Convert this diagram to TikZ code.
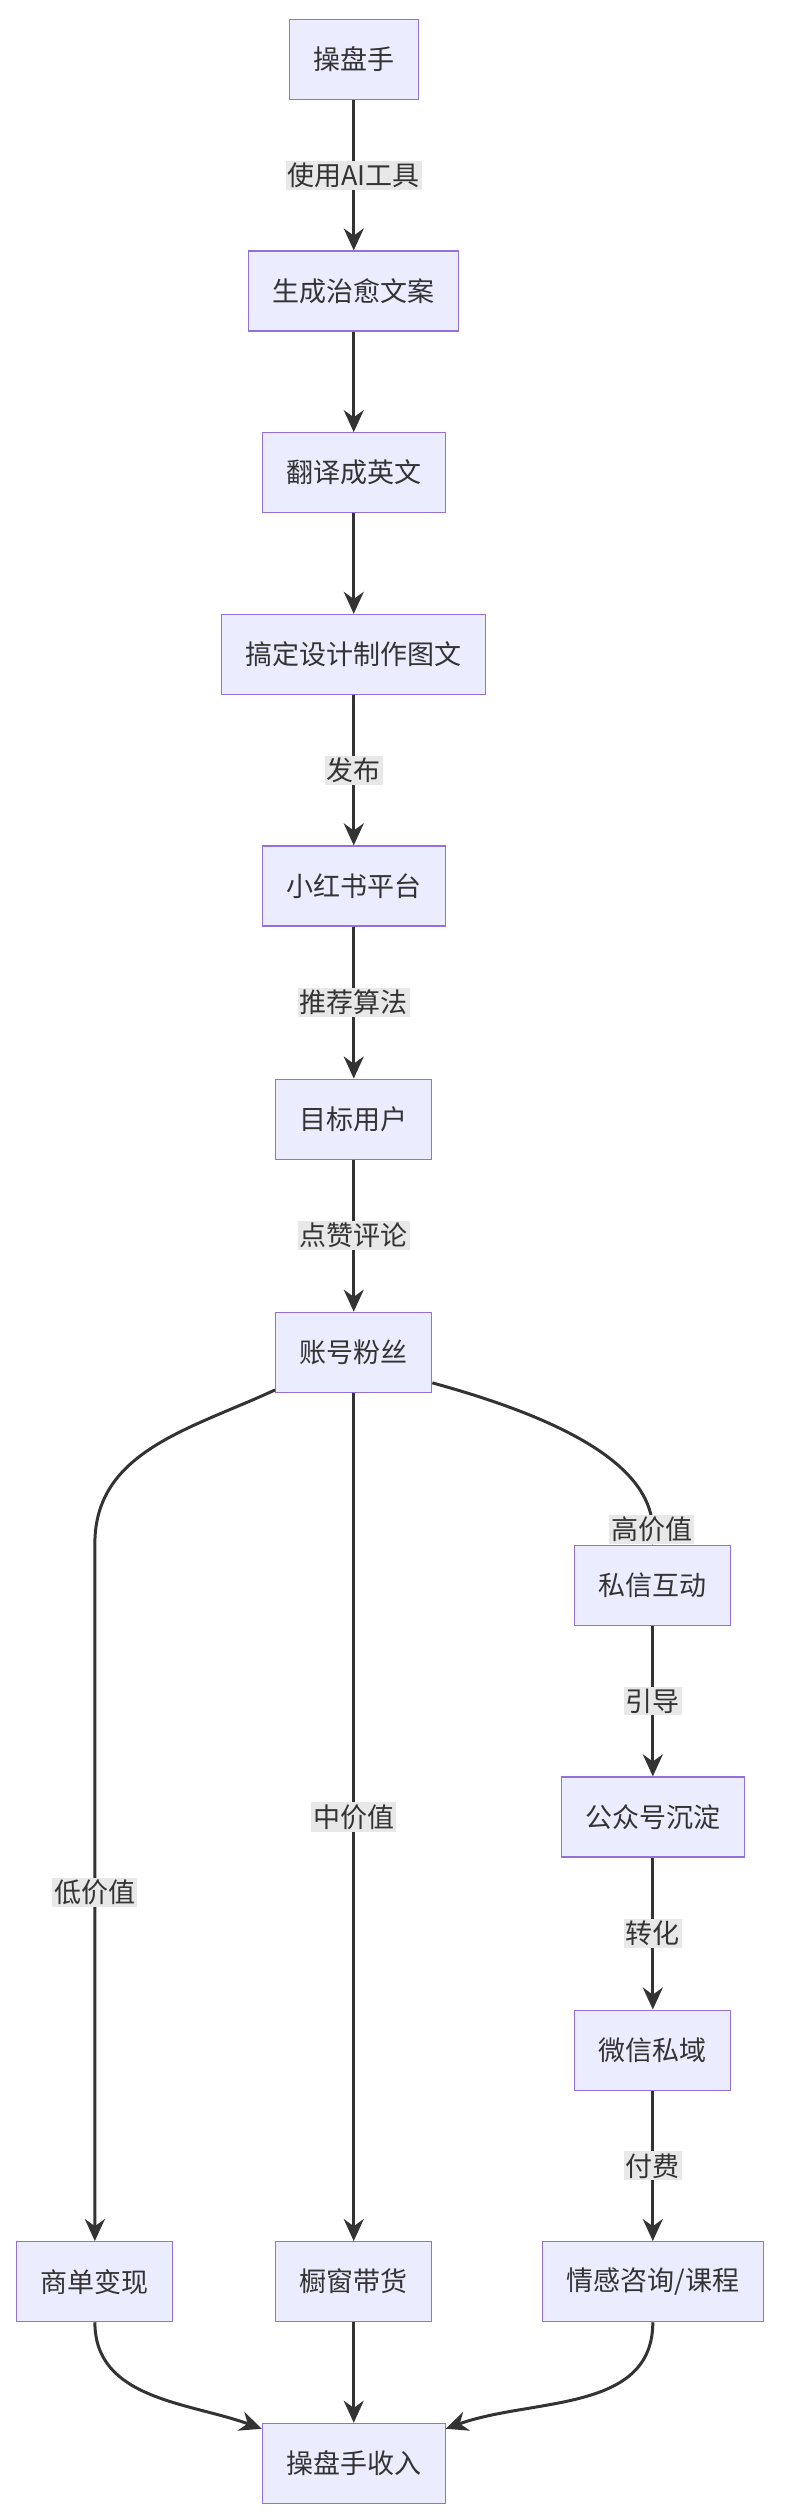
\documentclass[tikz,border=0pt]{standalone}
\usepackage{fontspec}
\newfontfamily\cjk{Noto Sans CJK SC}
\usetikzlibrary{arrows.meta}
\definecolor{boxfill}{HTML}{ECECFF}
\definecolor{boxline}{HTML}{9370DB}
\definecolor{edge}{HTML}{333333}
\definecolor{lblbg}{HTML}{E8E8E8}
\begin{document}
\begin{tikzpicture}[x=1.608pt,y=-1.608pt,
  box/.style={draw=boxline,fill=boxfill,line width=1.2pt,minimum height=80pt,inner xsep=24pt,font=\cjk\fontsize{27}{32}\selectfont,text=edge},
  lbl/.style={fill=lblbg,inner sep=2pt,font=\cjk\fontsize{27}{32}\selectfont,text=edge},
  arr/.style={draw=edge,line width=3pt,-{Stealth[length=22pt,width=20pt]}}]
\useasboundingbox (0,0) rectangle (490,1566);
\node[box] (a) at (220,37) {操盘手};
\node[box] (b) at (220,181) {生成治愈文案};
\node[box] (c) at (220,294) {翻译成英文};
\node[box] (d) at (220,407) {搞定设计制作图文};
\node[box] (e) at (220,551) {小红书平台};
\node[box] (f) at (220,696) {目标用户};
\node[box] (g) at (220,841) {账号粉丝};
\node[box] (h) at (406,986) {私信互动};
\node[box] (i) at (406,1130) {公众号沉淀};
\node[box] (j) at (406,1275) {微信私域};
\node[box] (k) at (406,1419) {情感咨询/课程};
\node[box] (l) at (59,1419) {商单变现};
\node[box] (m) at (220,1419) {橱窗带货};
\node[box] (n) at (220,1532) {操盘手收入};
\draw[arr] (a) -- node[lbl]{使用AI工具} (b);
\draw[arr] (b) -- (c);
\draw[arr] (c) -- (d);
\draw[arr] (d) -- node[lbl]{发布} (e);
\draw[arr] (e) -- node[lbl]{推荐算法} (f);
\draw[arr] (f) -- node[lbl]{点赞评论} (g);
\draw[arr] (h) -- node[lbl]{引导} (i);
\draw[arr] (i) -- node[lbl]{转化} (j);
\draw[arr] (j) -- node[lbl]{付费} (k);
\draw[arr] (g) -- node[lbl]{中价值} (m);
\draw[arr] (m) -- (n);
\draw[arr] ([yshift=3pt]g.south west) to[out=205,in=90] (59,960) -- node[lbl]{低价值} (l);
\draw[arr] ([yshift=10pt]g.south east) .. controls (360,885) and (406,915) .. node[lbl,pos=0.93]{高价值} (h);
\draw[arr] (l) to[out=-90,in=160] ([yshift=-6pt]n.north west);
\draw[arr] (k) to[out=-90,in=20] ([yshift=-6pt]n.north east);
\end{tikzpicture}
\end{document}
